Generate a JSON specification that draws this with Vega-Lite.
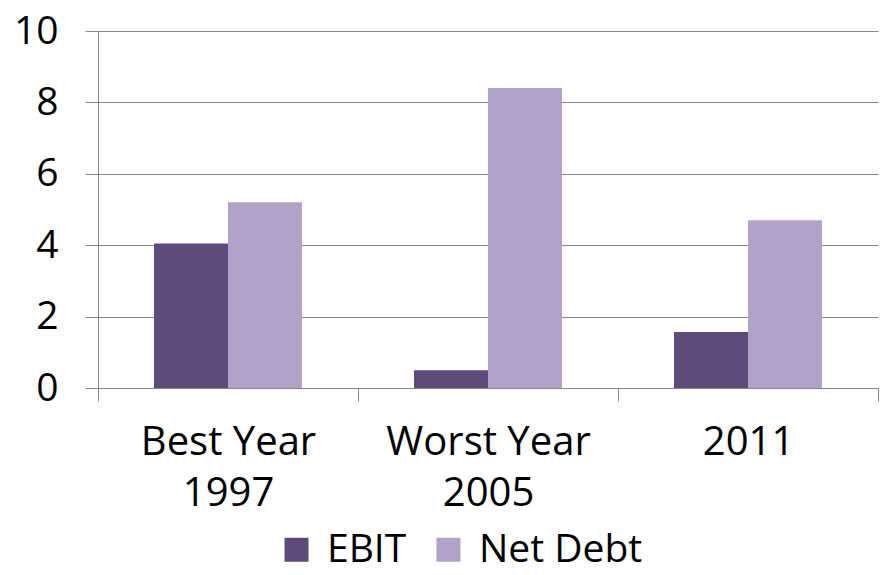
{
  "$schema": "https://vega.github.io/schema/vega-lite/v6.json",
  "width": 780,
  "height": 357,
  "autosize": {"type": "none"},
  "padding": {"left": 98, "top": 31, "right": 5, "bottom": 187},
  "background": "white",
  "data": {
    "values": [
      {"period": "Best Year 1997", "series": "EBIT", "value": 4.05},
      {"period": "Best Year 1997", "series": "Net Debt", "value": 5.2},
      {"period": "Worst Year 2005", "series": "EBIT", "value": 0.5},
      {"period": "Worst Year 2005", "series": "Net Debt", "value": 8.4},
      {"period": "2011", "series": "EBIT", "value": 1.57},
      {"period": "2011", "series": "Net Debt", "value": 4.7}
    ]
  },
  "mark": {"type": "bar"},
  "encoding": {
    "x": {
      "field": "period",
      "type": "nominal",
      "sort": null,
      "scale": {"paddingInner": 0, "paddingOuter": 0},
      "axis": {
        "title": null,
        "labelAngle": 0,
        "labelLimit": 0,
        "labelExpr": "datum.value == 'Best Year 1997' ? ['Best Year', '1997'] : datum.value == 'Worst Year 2005' ? ['Worst Year', '2005'] : datum.value",
        "labelFontSize": 40,
        "labelLineHeight": 51,
        "labelColor": "#000000",
        "labelPadding": 21,
        "tickBand": "extent",
        "tickSize": 13,
        "tickColor": "#868686",
        "domainColor": "#868686",
        "grid": false
      }
    },
    "xOffset": {
      "field": "series",
      "sort": ["EBIT", "Net Debt"],
      "scale": {"paddingInner": 0, "paddingOuter": 0.757}
    },
    "y": {
      "field": "value",
      "type": "quantitative",
      "scale": {"domain": [0, 10]},
      "axis": {
        "title": null,
        "values": [0, 2, 4, 6, 8, 10],
        "labelFontSize": 39,
        "labelColor": "#000000",
        "labelPadding": 27,
        "tickSize": 13,
        "tickColor": "#868686",
        "domainColor": "#868686",
        "grid": true,
        "gridColor": "#868686"
      }
    },
    "color": {
      "field": "series",
      "type": "nominal",
      "scale": {"domain": ["EBIT", "Net Debt"], "range": ["#604A7B", "#B3A2C7"]},
      "legend": {
        "title": null,
        "orient": "none",
        "legendX": 179,
        "legendY": 499,
        "direction": "horizontal",
        "symbolType": "square",
        "symbolSize": 576,
        "symbolStrokeWidth": 0,
        "labelFontSize": 39,
        "labelLimit": 0,
        "labelColor": "#000000",
        "labelOffset": 11,
        "columnPadding": 22
      }
    }
  },
  "config": {"view": {"stroke": null}, "font": "Open Sans"}
}
